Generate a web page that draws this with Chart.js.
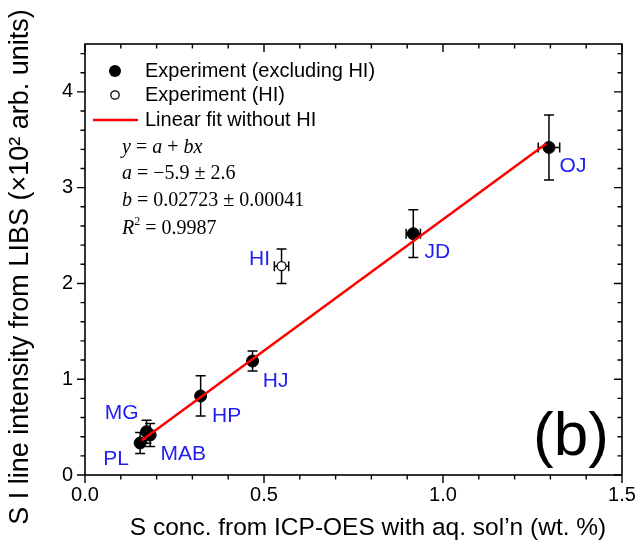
<!DOCTYPE html>
<html>
<head>
<meta charset="utf-8">
<script src="https://cdn.jsdelivr.net/npm/chart.js@4.4.1/dist/chart.umd.min.js"></script>
<style>
html,body{margin:0;padding:0;background:#fff;}
#wrap{width:638px;height:554px;position:relative;}
</style>
</head>
<body>
<div id="wrap"><canvas id="c"></canvas></div>
<script>
// ---- data ----
const categories = ['PL','MG','MAB','HP','HJ','JD','OJ'];
const xValues = [0.154, 0.172, 0.182, 0.323, 0.468, 0.917, 1.296];
const yValues = [0.334, 0.452, 0.418, 0.825, 1.19, 2.52, 3.42];
const yErrors = [0.11, 0.12, 0.12, 0.21, 0.105, 0.25, 0.34];
const xErrors = [0.008, 0.008, 0.008, 0.008, 0.008, 0.02, 0.03];

const hiCategories = ['HI'];
const hiX = [0.549];
const hiY = [2.18];
const hiYErrors = [0.18];
const hiXErrors = [0.02];

const fitX = [0.158, 1.289];
const fitY = [0.36, 3.46];

const xTickValues = [0, 0.5, 1.0, 1.5];
const xTickLabels = ['0.0', '0.5', '1.0', '1.5'];
const yTickValues = [0, 1, 2, 3, 4];
const yTickLabels = ['0', '1', '2', '3', '4'];

const fitLines = [
  [['y','i'],[' = ','n'],['a','i'],[' + ','n'],['bx','i']],
  [['a','i'],[' = \u22125.9 \u00b1 2.6','n']],
  [['b','i'],[' = 0.02723 \u00b1 0.00041','n']],
  [['R','i'],['2','sup'],[' = 0.9987','n']]
];

// ---- styles / positions ----
const labelOffsets = {PL:[-24,16], MG:[-25,-19], MAB:[33,19], HP:[26,20], HJ:[23,20], JD:[24,19], OJ:[24,19], HI:[-22,-7]};
const SANS = '"Liberation Sans", Arial, sans-serif';
const SERIF = '"Liberation Serif", "Times New Roman", serif';
const LABEL_BLUE = '#1f1ff2';

const mainData = xValues.map((x,i)=>({x:x, y:yValues[i], xe:xErrors[i], ye:yErrors[i], name:categories[i]}));
const hiData = hiX.map((x,i)=>({x:x, y:hiY[i], xe:hiXErrors[i], ye:hiYErrors[i], name:hiCategories[i]}));
const fitData = fitX.map((x,i)=>({x:x, y:fitY[i]}));

const errorBars = {
  id:'errorBars',
  beforeDatasetsDraw(chart){
    const ctx = chart.ctx, xs = chart.scales.x, ys = chart.scales.y;
    ctx.save();
    ctx.strokeStyle = '#000'; ctx.lineWidth = 1.5;
    const cap = 5;
    [mainData, hiData].forEach(arr => arr.forEach(p => {
      const px = xs.getPixelForValue(p.x), py = ys.getPixelForValue(p.y);
      const t = ys.getPixelForValue(p.y + p.ye), b = ys.getPixelForValue(p.y - p.ye);
      ctx.beginPath();
      ctx.moveTo(px, t); ctx.lineTo(px, b);
      ctx.moveTo(px-cap, t); ctx.lineTo(px+cap, t);
      ctx.moveTo(px-cap, b); ctx.lineTo(px+cap, b);
      const l = xs.getPixelForValue(p.x - p.xe), r = xs.getPixelForValue(p.x + p.xe);
      ctx.moveTo(l, py); ctx.lineTo(r, py);
      ctx.moveTo(l, py-cap); ctx.lineTo(l, py+cap);
      ctx.moveTo(r, py-cap); ctx.lineTo(r, py+cap);
      ctx.stroke();
    }));
    ctx.restore();
  }
};

function drawRuns(ctx, runs, x, y, size){
  let cx = x;
  runs.forEach(([txt, st]) => {
    if (st === 'sup'){
      ctx.font = Math.round(size*0.6) + 'px ' + SERIF;
      ctx.fillText(txt, cx, y - size*0.38);
    } else {
      ctx.font = (st === 'i' ? 'italic ' : '') + size + 'px ' + SERIF;
      ctx.fillText(txt, cx, y);
    }
    cx += ctx.measureText(txt).width;
  });
}

const decor = {
  id:'decor',
  afterDraw(chart){
    const ctx = chart.ctx, xs = chart.scales.x, ys = chart.scales.y, a = chart.chartArea;
    ctx.save();
    // frame
    ctx.strokeStyle = '#000'; ctx.lineWidth = 1.6;
    ctx.strokeRect(a.left, a.top, a.right - a.left, a.bottom - a.top);
    // ticks
    ctx.lineWidth = 1.4;
    ctx.beginPath();
    for (let k = 0; k <= 15; k++){
      const v = k/10, px = xs.getPixelForValue(v), major = (k % 5 === 0), len = major ? 8 : 4.5;
      ctx.moveTo(px, a.bottom); ctx.lineTo(px, a.bottom + len);
      ctx.moveTo(px, a.top); ctx.lineTo(px, a.top + len);
    }
    for (let k = 0; k <= 22; k++){
      const v = k/5, py = ys.getPixelForValue(v), major = (k % 5 === 0), len = major ? 8 : 4.5;
      ctx.moveTo(a.left, py); ctx.lineTo(a.left - len, py);
      ctx.moveTo(a.right, py); ctx.lineTo(a.right - len, py);
    }
    ctx.stroke();
    // tick labels
    ctx.fillStyle = '#000';
    ctx.font = '20px ' + SANS;
    ctx.textAlign = 'center'; ctx.textBaseline = 'middle';
    xTickValues.forEach((v,i)=> ctx.fillText(xTickLabels[i], xs.getPixelForValue(v), a.bottom + 20));
    ctx.textAlign = 'right';
    yTickValues.forEach((v,i)=> ctx.fillText(yTickLabels[i], a.left - 12, ys.getPixelForValue(v)));
    // axis titles
    ctx.font = '24.5px ' + SANS;
    ctx.textAlign = 'center';
    ctx.fillText('S conc. from ICP-OES with aq. sol\u2019n (wt. %)', 368, 528);
    ctx.save();
    ctx.font = '27px ' + SANS;
    ctx.translate(21, 267);
    ctx.rotate(-Math.PI/2);
    ctx.fillText('S I line intensity from LIBS (\u00d710\u00b2 arb. units)', 0, 0);
    ctx.restore();
    // point labels
    ctx.fillStyle = LABEL_BLUE;
    ctx.font = '21px ' + SANS;
    ctx.textAlign = 'center'; ctx.textBaseline = 'middle';
    [mainData, hiData].forEach(arr => arr.forEach(p => {
      const o = labelOffsets[p.name];
      ctx.fillText(p.name, xs.getPixelForValue(p.x) + o[0], ys.getPixelForValue(p.y) + o[1]);
    }));
    // legend
    const ds = chart.data.datasets;
    ctx.font = '20px ' + SANS; ctx.textAlign = 'left'; ctx.fillStyle = '#000';
    const lx = a.left + 30, tx = a.left + 60;
    const rows = [a.top + 27, a.top + 51, a.top + 76];
    ctx.beginPath(); ctx.arc(lx, rows[0], 6, 0, Math.PI*2); ctx.fill();
    ctx.fillText(ds[1].label, tx, rows[0]);
    ctx.beginPath(); ctx.arc(lx, rows[1], 4.2, 0, Math.PI*2);
    ctx.fillStyle = '#fff'; ctx.fill(); ctx.lineWidth = 1.3; ctx.strokeStyle = '#000'; ctx.stroke();
    ctx.fillStyle = '#000';
    ctx.fillText(ds[2].label, tx, rows[1]);
    ctx.strokeStyle = '#ff0000'; ctx.lineWidth = 2.5;
    ctx.beginPath(); ctx.moveTo(a.left + 8, rows[2]); ctx.lineTo(a.left + 53, rows[2]); ctx.stroke();
    ctx.fillText(ds[0].label, tx, rows[2]);
    // fit annotation
    ctx.fillStyle = '#000'; ctx.textBaseline = 'middle';
    const fy = [148, 174, 201, 229];
    fitLines.forEach((runs,i)=> drawRuns(ctx, runs, 122, fy[i], 20));
    // panel tag
    ctx.font = '62px ' + SANS; ctx.textAlign = 'center'; ctx.textBaseline = 'alphabetic';
    ctx.fillText('(b)', 571, 455);
    ctx.restore();
  }
};

new Chart(document.getElementById('c'), {
  data: {
    datasets: [
      {type:'line', label:'Linear fit without HI', data:fitData, borderColor:'#ff0000', borderWidth:2.5, pointRadius:0, fill:false, order:0},
      {type:'scatter', label:'Experiment (excluding HI)', data:mainData, backgroundColor:'#000', borderColor:'#000', pointRadius:6, pointHoverRadius:6, order:1},
      {type:'scatter', label:'Experiment (HI)', data:hiData, backgroundColor:'#fff', borderColor:'#000', borderWidth:1.3, pointRadius:4.5, pointHoverRadius:4.5, order:2}
    ]
  },
  options: {
    responsive:true, maintainAspectRatio:false, animation:false,
    layout:{padding:{left:85, right:16, top:44, bottom:79}},
    plugins:{legend:{display:false}, tooltip:{enabled:false}},
    scales:{
      x:{type:'linear', min:0, max:1.5, display:false},
      y:{type:'linear', min:0, max:4.5, display:false}
    }
  },
  plugins:[errorBars, decor]
});
</script>
</body>
</html>
